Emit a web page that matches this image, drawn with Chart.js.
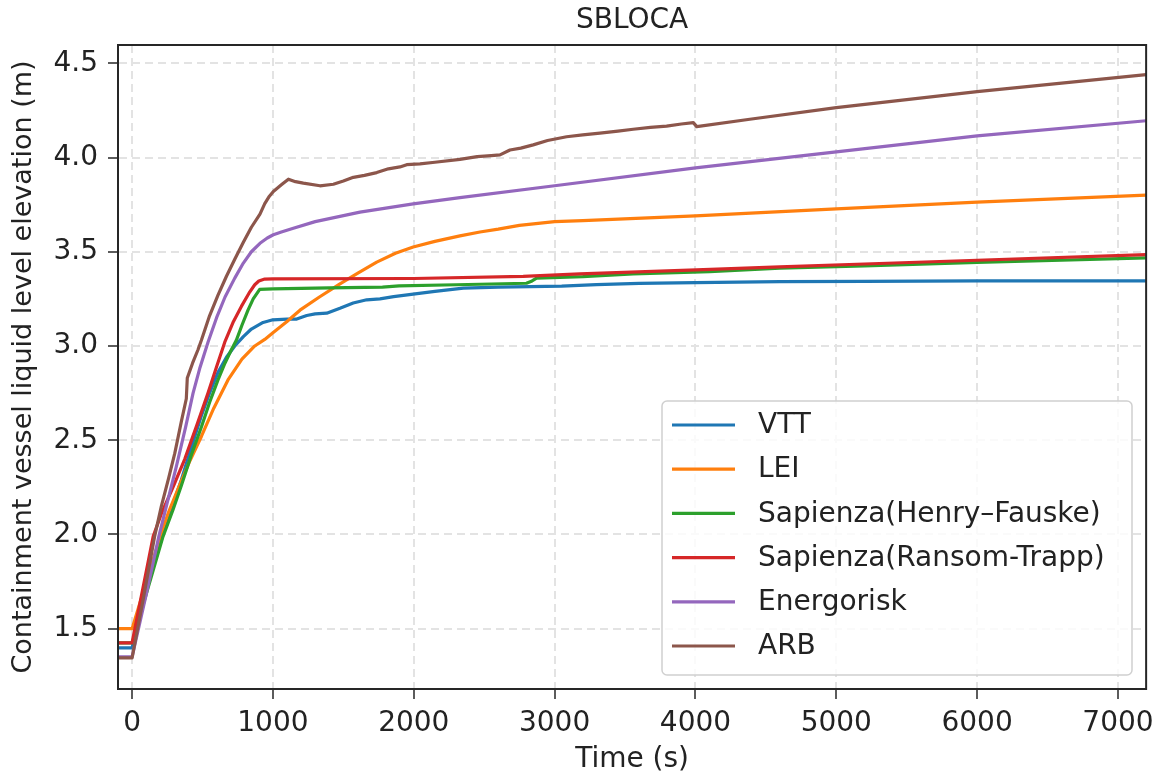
<!DOCTYPE html>
<html>
<head>
<meta charset="utf-8">
<title>SBLOCA</title>
<script src="https://cdn.jsdelivr.net/npm/chart.js@4.4.1/dist/chart.umd.min.js"></script>
<style>
  body { margin: 0; background: #ffffff; }
  #canva1 { display: block; }
</style>
</head>
<body>
<canvas id="canva1" width="1162" height="780"></canvas>
<script>
// dados (tempo em s, nivel em m)

var nomes = ['VTT', 'LEI', 'Sapienza(Henry\u2013Fauske)', 'Sapienza(Ransom-Trapp)', 'Energorisk', 'ARB'];
var cores = ['#1f77b4', '#ff7f0e', '#2ca02c', '#d62728', '#9467bd', '#8c564b'];

var x_ticks = [0, 1000, 2000, 3000, 4000, 5000, 6000, 7000];
var y_ticks = [1.5, 2.0, 2.5, 3.0, 3.5, 4.0, 4.5];

var t_vtt = [-100, 0, 100, 215, 280, 350, 420, 492, 550, 610, 670, 729, 790, 847, 930, 1000, 1100, 1169, 1240, 1300, 1382, 1476, 1570, 1666, 1760, 1857, 1996, 2150, 2352, 2600, 2825, 3050, 3298, 3600, 4000, 4600, 5200, 6000, 7200];
var v_vtt = [1.398, 1.398, 1.70, 1.99, 2.14, 2.29, 2.46, 2.63, 2.75, 2.86, 2.94, 3.00, 3.05, 3.09, 3.125, 3.139, 3.143, 3.143, 3.162, 3.17, 3.174, 3.20, 3.228, 3.245, 3.25, 3.262, 3.275, 3.29, 3.307, 3.312, 3.315, 3.318, 3.326, 3.332, 3.336, 3.342, 3.343, 3.345, 3.345];

var t_lei = [-100, 0, 200, 260, 326, 410, 492, 580, 681, 780, 871, 942, 1000, 1100, 1192, 1330, 1476, 1600, 1737, 1870, 1996, 2150, 2328, 2470, 2600, 2750, 2850, 3000, 3200, 4000, 5000, 6000, 7200];
var v_lei = [1.50, 1.50, 1.99, 2.12, 2.24, 2.39, 2.52, 2.67, 2.82, 2.93, 3.00, 3.035, 3.07, 3.13, 3.19, 3.26, 3.33, 3.385, 3.445, 3.492, 3.525, 3.555, 3.584, 3.605, 3.62, 3.64, 3.648, 3.66, 3.665, 3.69, 3.728, 3.763, 3.80];

var t_hf = [-100, 0, 220, 290, 350, 420, 492, 550, 610, 660, 705, 740, 780, 823, 860, 906, 1000, 1400, 1778, 1896, 2300, 2800, 2840, 2872, 3200, 3558, 4101, 4600, 5200, 6000, 7200];
var v_hf = [1.425, 1.425, 1.99, 2.13, 2.26, 2.42, 2.57, 2.70, 2.82, 2.91, 2.98, 3.03, 3.11, 3.19, 3.25, 3.30, 3.303, 3.308, 3.312, 3.319, 3.325, 3.333, 3.345, 3.36, 3.368, 3.383, 3.395, 3.413, 3.425, 3.443, 3.468];

var t_rt = [-100, 0, 150, 208, 290, 374, 460, 539, 600, 658, 720, 776, 830, 871, 900, 942, 1000, 2000, 2777, 3180, 4007, 4599, 5200, 6000, 7200];
var v_rt = [1.425, 1.425, 1.99, 2.11, 2.25, 2.40, 2.58, 2.75, 2.89, 3.02, 3.13, 3.21, 3.28, 3.325, 3.345, 3.355, 3.356, 3.358, 3.369, 3.383, 3.404, 3.42, 3.435, 3.455, 3.485];

var t_ener = [-100, 0, 100, 190, 250, 314, 380, 433, 480, 539, 600, 660, 729, 790, 847, 908, 960, 1003, 1060, 1145, 1300, 1618, 1996, 2328, 3000, 4000, 5000, 6000, 7200];
var v_ener = [1.35, 1.35, 1.68, 1.99, 2.17, 2.36, 2.57, 2.75, 2.88, 3.02, 3.15, 3.26, 3.36, 3.44, 3.50, 3.545, 3.573, 3.59, 3.605, 3.625, 3.66, 3.71, 3.754, 3.787, 3.85, 3.945, 4.03, 4.115, 4.195];

var t_arb = [-100, 0, 80, 160, 208, 260, 303, 350, 385, 392, 430, 468, 492, 550, 610, 670, 729, 790, 847, 908, 942, 975, 1003, 1060, 1110, 1160, 1216, 1334, 1429, 1500, 1571, 1650, 1737, 1820, 1902, 1950, 2044, 2150, 2328, 2450, 2550, 2612, 2683, 2760, 2848, 2950, 3085, 3200, 3322, 3450, 3558, 3680, 3795, 3900, 3985, 4009, 4386, 5000, 6000, 7200];
var v_arb = [1.345, 1.345, 1.66, 1.99, 2.15, 2.30, 2.43, 2.60, 2.72, 2.83, 2.91, 2.98, 3.03, 3.16, 3.27, 3.37, 3.46, 3.55, 3.63, 3.70, 3.755, 3.795, 3.82, 3.855, 3.885, 3.872, 3.864, 3.85, 3.858, 3.875, 3.895, 3.905, 3.92, 3.94, 3.95, 3.962, 3.966, 3.975, 3.99, 4.005, 4.01, 4.014, 4.04, 4.05, 4.067, 4.09, 4.11, 4.12, 4.129, 4.14, 4.15, 4.16, 4.167, 4.178, 4.185, 4.164, 4.203, 4.265, 4.35, 4.44];

var tempos = [t_vtt, t_lei, t_hf, t_rt, t_ener, t_arb];
var valores = [v_vtt, v_lei, v_hf, v_rt, v_ener, v_arb];

var fonte = 'DejaVu Sans';

function montarDatasets() {
    var lista = [];
    for (var i = 0; i < nomes.length; i++) {
        var pontos = [];
        for (var j = 0; j < tempos[i].length; j++) {
            pontos.push({ x: tempos[i][j], y: valores[i][j] });
        }
        lista.push({
            label: nomes[i],
            data: pontos,
            borderColor: cores[i],
            backgroundColor: cores[i],
            borderWidth: 3.2,
            borderJoinStyle: 'round',
            pointRadius: 0,
            tension: 0,
            fill: false,
            order: nomes.length - i // ultimo por cima, igual ao matplotlib
        });
    }
    return lista;
}

// titulo, moldura e legenda desenhados a mao
var extras = {
    id: 'extras',
    afterDraw: function (chart) {
        var ctx = chart.ctx;
        var a = chart.chartArea;
        ctx.save();

        ctx.strokeStyle = '#262626';
        ctx.lineWidth = 2;
        ctx.strokeRect(a.left, a.top, a.right - a.left, a.bottom - a.top);

        ctx.fillStyle = '#222';
        ctx.font = '28px "' + fonte + '"';
        ctx.textAlign = 'center';
        ctx.textBaseline = 'middle';
        ctx.fillText('SBLOCA', (a.left + a.right) / 2, a.top - 24);

        // legenda
        var bx = 662, by = 401, bw = 470, bh = 274;
        ctx.beginPath();
        ctx.roundRect(bx, by, bw, bh, 5);
        ctx.fillStyle = 'rgba(255,255,255,0.8)';
        ctx.fill();
        ctx.strokeStyle = '#d0d0d0';
        ctx.lineWidth = 1.5;
        ctx.stroke();

        ctx.textAlign = 'left';
        var ds = chart.data.datasets;
        for (var i = 0; i < ds.length; i++) {
            var yy = 425 + i * 44.2;
            ctx.strokeStyle = ds[i].borderColor;
            ctx.lineWidth = 3.2;
            ctx.beginPath();
            ctx.moveTo(672, yy);
            ctx.lineTo(735, yy);
            ctx.stroke();
            ctx.fillStyle = '#222';
            ctx.fillText(ds[i].label, 758, yy + 1);
        }
        ctx.restore();
    }
};

var ctx = document.getElementById('canva1').getContext('2d');
var myChart1 = new Chart(ctx, {
    type: 'line',
    data: { datasets: montarDatasets() },
    plugins: [extras],
    options: {
        responsive: false,
        animation: false,
        layout: { padding: { left: 0, top: 45, right: 15, bottom: 0 } },
        plugins: {
            legend: { display: false },
            title: { display: false },
            tooltip: { enabled: false }
        },
        scales: {
            x: {
                type: 'linear',
                min: -100,
                max: 7200,
                afterBuildTicks: function (s) { s.ticks = x_ticks.map(function (v) { return { value: v }; }); },
                afterFit: function (s) { s.height = 91; },
                ticks: {
                    color: '#222',
                    font: { family: fonte, size: 28 },
                    padding: 8,
                    maxRotation: 0,
                    callback: function (v) { return String(v); }
                },
                grid: {
                    color: '#e3e3e3',
                    lineWidth: 2,
                    tickColor: '#262626',
                    tickWidth: 1.5,
                    tickLength: 10,
                    tickBorderDash: []
                },
                border: { display: true, color: '#262626', width: 2, dash: [8, 5] },
                title: {
                    display: true,
                    text: 'Time (s)',
                    color: '#222',
                    font: { family: fonte, size: 28 },
                    padding: { top: 0, bottom: 3 }
                }
            },
            y: {
                type: 'linear',
                min: 1.18,
                max: 4.597,
                afterBuildTicks: function (s) { s.ticks = y_ticks.map(function (v) { return { value: v }; }); },
                afterFit: function (s) { s.width = 118; },
                ticks: {
                    color: '#222',
                    font: { family: fonte, size: 28 },
                    padding: 10,
                    callback: function (v) { return Number(v).toFixed(1); }
                },
                grid: {
                    color: '#e3e3e3',
                    lineWidth: 2,
                    tickColor: '#262626',
                    tickWidth: 1.5,
                    tickLength: 10,
                    tickBorderDash: []
                },
                border: { display: true, color: '#262626', width: 2, dash: [8, 5] },
                title: {
                    display: true,
                    text: 'Containment vessel liquid level elevation (m)',
                    color: '#222',
                    font: { family: fonte, size: 27 },
                    padding: { top: 8, bottom: 0 }
                }
            }
        }
    }
});
</script>
</body>
</html>
